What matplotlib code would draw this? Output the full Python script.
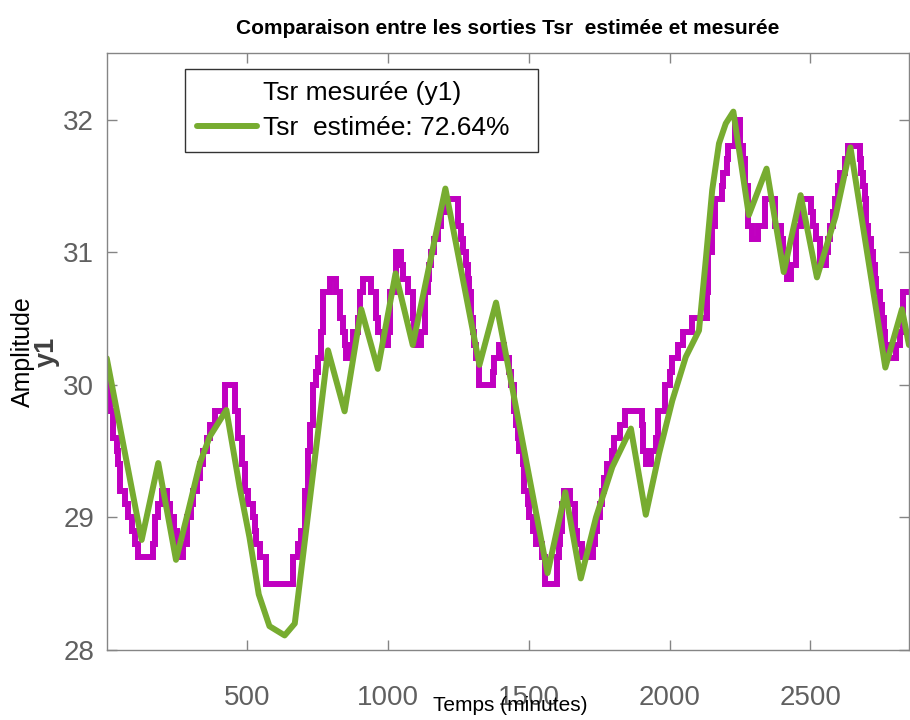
import matplotlib
matplotlib.use('Agg')
import matplotlib.pyplot as plt
from matplotlib.lines import Line2D

# measured output (staircase, change points) : time in minutes, value
meas_t = [0, 5, 10, 23, 37, 41, 47, 65, 77, 89, 100, 112, 165, 171, 183, 195, 213, 224, 239, 248,
          272, 286, 298, 307, 319, 331, 343, 355, 366, 384, 420, 455, 467, 479, 490, 502, 518, 526, 532, 544,
          567, 662, 679, 691, 703, 715, 723, 733, 745, 750, 762, 768, 792, 815, 827, 839, 845, 851, 869, 875,
          892, 898, 910, 940, 957, 963, 981, 999, 1005, 1028, 1046, 1052, 1070, 1087, 1093, 1099, 1117, 1129, 1141, 1146,
          1152, 1164, 1176, 1188, 1200, 1247, 1259, 1265, 1276, 1282, 1288, 1294, 1300, 1306, 1312, 1324, 1371, 1377, 1395, 1413,
          1430, 1436, 1448, 1454, 1460, 1466, 1478, 1484, 1495, 1501, 1513, 1525, 1546, 1558, 1598, 1605, 1611, 1617, 1623, 1647,
          1664, 1670, 1688, 1728, 1735, 1741, 1752, 1759, 1765, 1777, 1794, 1803, 1824, 1842, 1901, 1905, 1915, 1932, 1952, 1960,
          1983, 2001, 2007, 2030, 2048, 2078, 2131, 2137, 2149, 2161, 2184, 2190, 2202, 2208, 2231, 2249, 2261, 2267, 2279, 2291,
          2314, 2338, 2373, 2397, 2403, 2415, 2432, 2450, 2468, 2503, 2509, 2521, 2533, 2555, 2562, 2568, 2580, 2586, 2598, 2604,
          2622, 2633, 2675, 2681, 2687, 2692, 2698, 2704, 2716, 2722, 2728, 2734, 2746, 2754, 2760, 2766, 2772, 2805, 2817, 2828,
          2850]
meas_y = [30.1, 30.0, 29.8, 29.6, 29.5, 29.4, 29.2, 29.1, 29.0, 28.9, 28.8, 28.7, 28.8, 29.0, 29.1, 29.2, 29.1, 29.0, 28.9, 28.7,
          28.8, 29.0, 29.1, 29.2, 29.3, 29.4, 29.5, 29.6, 29.7, 29.8, 30.0, 29.8, 29.6, 29.4, 29.2, 29.1, 29.0, 28.9, 28.8, 28.7,
          28.5, 28.7, 28.8, 28.9, 29.2, 29.5, 29.7, 30.0, 30.1, 30.2, 30.4, 30.7, 30.8, 30.7, 30.5, 30.4, 30.3, 30.2, 30.3, 30.4,
          30.5, 30.7, 30.8, 30.7, 30.5, 30.4, 30.3, 30.4, 30.7, 31.0, 30.9, 30.8, 30.7, 30.5, 30.4, 30.3, 30.4, 30.7, 30.8, 30.9,
          31.0, 31.1, 31.2, 31.3, 31.4, 31.2, 31.1, 31.0, 30.9, 30.8, 30.7, 30.5, 30.4, 30.3, 30.2, 30.0, 30.1, 30.2, 30.3, 30.2,
          30.1, 30.0, 29.8, 29.7, 29.6, 29.5, 29.4, 29.2, 29.1, 29.0, 28.9, 28.8, 28.7, 28.5, 28.7, 28.8, 28.9, 29.1, 29.2, 29.1,
          28.9, 28.8, 28.7, 28.8, 28.9, 29.0, 29.1, 29.2, 29.3, 29.4, 29.5, 29.6, 29.7, 29.8, 29.7, 29.5, 29.4, 29.5, 29.6, 29.8,
          30.0, 30.1, 30.2, 30.3, 30.4, 30.5, 30.7, 31.0, 31.2, 31.4, 31.5, 31.6, 31.7, 31.8, 32.0, 31.8, 31.7, 31.5, 31.2, 31.1,
          31.2, 31.4, 31.2, 31.1, 31.0, 30.8, 30.9, 31.2, 31.4, 31.3, 31.2, 31.1, 30.9, 31.0, 31.1, 31.2, 31.3, 31.4, 31.5, 31.6,
          31.7, 31.8, 31.7, 31.6, 31.5, 31.4, 31.2, 31.1, 31.0, 30.9, 30.8, 30.7, 30.6, 30.5, 30.4, 30.3, 30.2, 30.3, 30.4, 30.7,
          30.7]

# estimated output (model)
est_t = [0, 124, 183, 246, 284, 331, 366, 425, 472, 507, 540, 578, 632, 668, 786, 845, 904, 963, 1026, 1087,
         1203, 1324, 1383, 1566, 1629, 1684, 1738, 1796, 1862, 1915, 1962, 2009, 2057, 2104, 2128, 2151, 2175, 2199, 2226, 2281,
         2344, 2405, 2465, 2523, 2589, 2642, 2766, 2825, 2850]
est_y = [30.20, 28.83, 29.41, 28.68, 29.00, 29.41, 29.61, 29.81, 29.23, 28.85, 28.42, 28.18, 28.11, 28.20, 30.26, 29.80, 30.57, 30.12, 30.84, 30.30,
         31.48, 30.15, 30.62, 28.58, 29.19, 28.54, 29.00, 29.38, 29.67, 29.02, 29.48, 29.88, 30.21, 30.41, 30.94, 31.47, 31.82, 31.97, 32.06, 31.28,
         31.63, 30.85, 31.43, 30.81, 31.27, 31.79, 30.13, 30.57, 30.30]

x_ticks = [500, 1000, 1500, 2000, 2500]
y_ticks = [28, 29, 30, 31, 32]

fit_label = 'Tsr  estimée: 72.64%'
meas_label = 'Tsr mesurée (y1)'

plt.rcParams['font.family'] = ['Liberation Sans', 'DejaVu Sans']

fig = plt.figure(figsize=(9.1, 7.2), dpi=100)
ax = fig.add_axes([0.1173, 0.0972, 0.8816, 0.8288])

ax.step(meas_t, meas_y, where='post', color='#c000c0', linewidth=4.3, solid_joinstyle='miter')
est_line, = ax.plot(est_t, est_y, color='#77ac30', linewidth=4.3, solid_capstyle='round')

ax.set_xlim(0, 2850)
ax.set_ylim(28, 32.5)
ax.set_xticks(x_ticks)
ax.set_yticks(y_ticks)

# matlab-like box with inward ticks
for s in ax.spines.values():
    s.set_color('#858585')
    s.set_linewidth(1.0)
ax.tick_params(direction='in', length=7, width=1, color='#858585', labelcolor='#606060',
               labelsize=20, top=True, right=True)
ax.tick_params(axis='x', pad=25)
ax.tick_params(axis='y', pad=9)

ax.set_title('Comparaison entre les sorties Tsr  estimée et mesurée', fontsize=15,
             fontweight='bold', pad=14)

ax.set_xlabel('Temps (minutes)', fontsize=15, color='black')
ax.xaxis.set_label_coords(0.503, -0.077)

fig.text(23 / 910, 1 - 352 / 720, 'Amplitude', rotation=90, ha='center', va='center',
         fontsize=18, color='black')
fig.text(47 / 910, 1 - 352 / 720, 'y1', rotation=90, ha='center', va='center',
         fontsize=19.5, fontweight='bold', color='#404040')

# legend box spans the same width as in the reference (mode expand)
blank = Line2D([], [], linestyle='none')
leg = ax.legend([blank, est_line], [meas_label, fit_label], loc='upper left',
                bbox_to_anchor=(0.0976, 0.9737, 0.44, 0.0), mode='expand', borderaxespad=0,
                fontsize=19, handlelength=2.27, handletextpad=0.23, labelspacing=0.42,
                borderpad=0.45, fancybox=False, framealpha=1)
leg.get_frame().set_edgecolor('#333333')
leg.get_frame().set_linewidth(1.0)

fig.savefig('out.png', dpi=100)
